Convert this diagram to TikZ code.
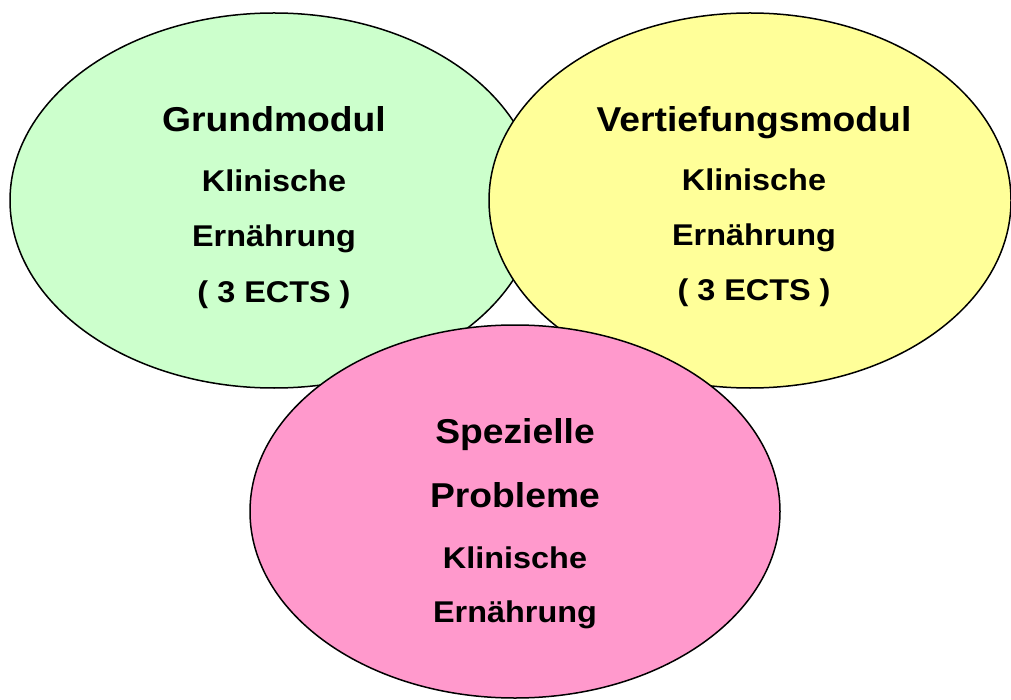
\documentclass[tikz,border=0pt]{standalone}
\usepackage{fontspec}
\setmainfont{Liberation Sans}[FakeStretch=1.08]
\usetikzlibrary{shapes.geometric}
\definecolor{cgreen}{HTML}{CCFFCC}
\definecolor{cyellow}{HTML}{FFFF99}
\definecolor{cpink}{HTML}{FF99CC}
\tikzset{
  blob/.style={ellipse, draw=black, line width=1.5pt, inner sep=0pt},
  ttl/.style={anchor=base, inner sep=0pt, font=\fontsize{34.5}{40}\selectfont\bfseries},
  sub/.style={anchor=base, inner sep=0pt, font=\fontsize{30}{36}\selectfont\bfseries}
}
\begin{document}
\begin{tikzpicture}[x=1pt,y=-1pt]
\useasboundingbox (0,0) rectangle (1011,700);
\node[blob, fill=cgreen, minimum width=528pt, minimum height=375pt] (grund) at (274,200.5) {};
\node[blob, fill=cyellow, minimum width=522pt, minimum height=375pt] (vert) at (750,200.5) {};
\node[blob, fill=cpink, minimum width=530pt, minimum height=373pt] (spez) at (515,511.5) {};
% green
\node[ttl] (g1) at (274,132) {Grundmodul};
\node[sub] (g2) at (274,192) {Klinische};
\node[sub] (g3) at (274,247) {Ernährung};
\node[sub] (g4) at (274,302) {( 3 ECTS )};
% yellow
\node[ttl] (v1) at (754,132) {Vertiefungsmodul};
\node[sub] (v2) at (754,191) {Klinische};
\node[sub] (v3) at (754,246) {Ernährung};
\node[sub] (v4) at (754,301) {( 3 ECTS )};
% pink
\node[ttl] (s1) at (515,443) {Spezielle};
\node[ttl] (s2) at (515,507) {Probleme};
\node[sub] (s3) at (515,568) {Klinische};
\node[sub] (s4) at (515,622) {Ernährung};
\end{tikzpicture}
\end{document}
